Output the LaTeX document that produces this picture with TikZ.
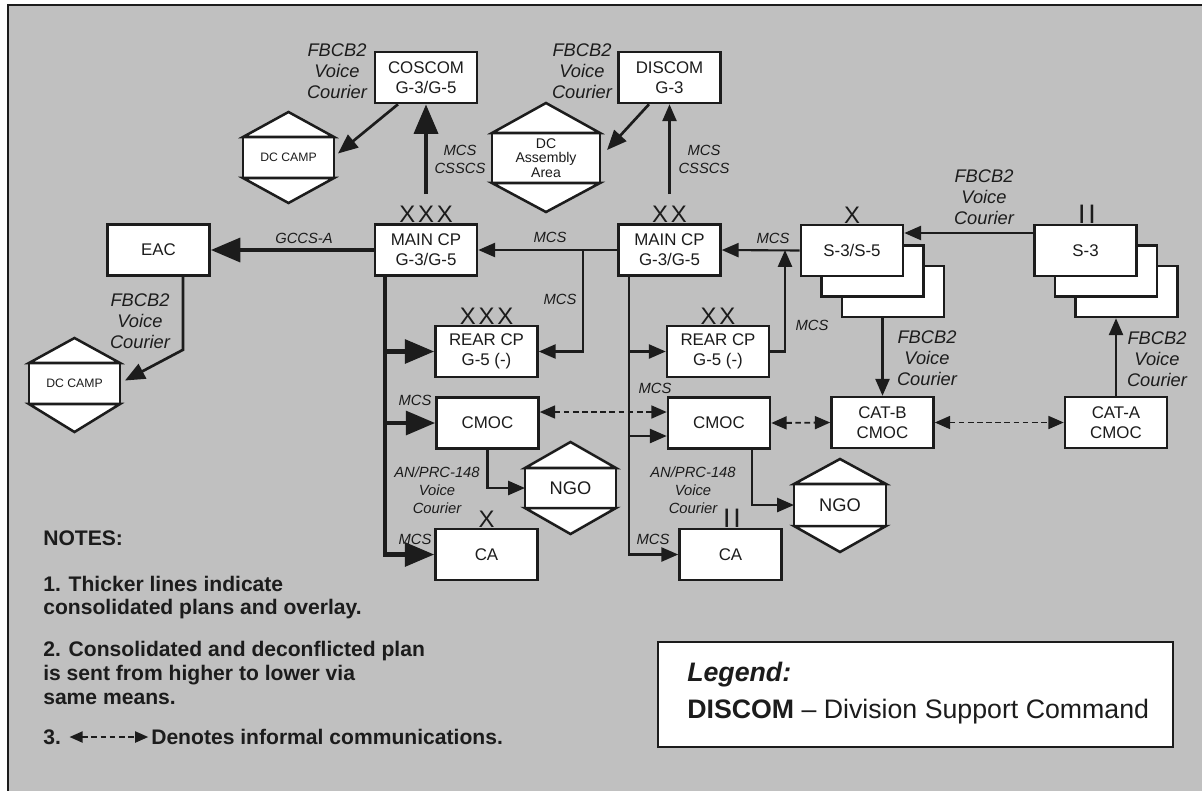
\documentclass[tikz,border=0pt]{standalone}
\usepackage{fontspec}
\setmainfont{Liberation Sans}
\usetikzlibrary{arrows.meta}
\definecolor{bggray}{RGB}{192,192,192}
\definecolor{ink}{RGB}{28,28,28}

\begin{document}
\begin{tikzpicture}[x=0.025cm,y=-0.025cm,
        >={Triangle[length=4pt 5.3,width=4pt 4]},
        box/.style={draw=ink,fill=white,line width=1.8pt,minimum width=2.55cm,minimum height=1.275cm,align=center,text=ink,font=\fontsize{12}{14}\selectfont,inner sep=1pt},
        band/.style={draw=ink,fill=white,line width=1.8pt,align=center,text=ink,inner sep=1pt,outer sep=0pt},
        hexcap/.style={draw=ink,fill=white,line width=1.8pt},
        conn/.style={draw=ink,line width=1.5pt,->},
        thickconn/.style={draw=ink,line width=3.2pt,->},
        informal/.style={draw=ink,line width=1.3pt,<->,dash pattern=on 4pt off 2.5pt},
        lbl/.style={text=ink,font=\fontsize{10.5}{12.8}\selectfont\itshape,align=center,inner sep=0pt},
        vlbl/.style={text=ink,font=\fontsize{13}{15}\selectfont\itshape,align=center,inner sep=0pt},
        ech/.style={text=ink,font=\fontsize{17}{17}\selectfont,inner sep=0pt,anchor=south},
        note/.style={text=ink,font=\fontsize{15}{17}\selectfont\bfseries,align=left,anchor=west,inner sep=0pt}]
    \useasboundingbox (0,0) rectangle (1202,791);
    \fill[bggray] (8,5) rectangle (1202,791);
    \draw[ink,line width=1.6pt] (1202,5) -- (8,5) -- (8,791);

    \node[box] (coscom) at (426,77.5) {COSCOM\\G-3/G-5};
    \node[box] (discom) at (669.5,77.5) {DISCOM\\G-3};
    \node[box] (eac) at (158.5,250) {EAC};
    \node[box] (mainA) at (426,250) {MAIN CP\\G-3/G-5};
    \node[box] (mainB) at (669.5,250) {MAIN CP\\G-3/G-5};
    \node[box] (s35c) at (893,291.5) {};
    \node[box] (s35b) at (872.5,271) {};
    \node[box] (s35) at (852,250.5) {S-3/S-5};
    \node[box] (s3c) at (1126.5,291.5) {};
    \node[box] (s3b) at (1106,271) {};
    \node[box] (s3) at (1085.5,250.5) {S-3};
    \node[box] (rearA) at (486.5,351.5) {REAR CP\\G-5 (-)};
    \node[box] (rearB) at (718,351.5) {REAR CP\\G-5 (-)};
    \node[box] (cmocA) at (487.5,423) {CMOC};
    \node[box] (cmocB) at (719,423) {CMOC};
    \node[box] (catb) at (882.5,422.5) {CAT-B\\CMOC};
    \node[box] (cata) at (1116,422.5) {CAT-A\\CMOC};
    \node[box] (caA) at (486.5,554.5) {CA};
    \node[box] (caB) at (730.5,554.5) {CA};

    \node[band,minimum width=2.275cm,minimum height=1.025cm,font=\fontsize{8.7}{10}\selectfont] (dcA) at (288.5,157.5) {DC CAMP};
    \draw[hexcap] (dcA.north west) -- ++(45.5,-25) -- (dcA.north east) -- cycle;
    \draw[hexcap] (dcA.south west) -- ++(45.5,25) -- (dcA.south east) -- cycle;
    \node[band,minimum width=2.7cm,minimum height=1.25cm,font=\fontsize{10}{10.5}\selectfont] (dcaa) at (546,158) {DC\\Assembly\\Area};
    \draw[hexcap] (dcaa.north west) -- ++(54,-30) -- (dcaa.north east) -- cycle;
    \draw[hexcap] (dcaa.south west) -- ++(54,29) -- (dcaa.south east) -- cycle;
    \node[band,minimum width=2.275cm,minimum height=1.025cm,font=\fontsize{8.7}{10}\selectfont] (dcB) at (74.5,383.5) {DC CAMP};
    \draw[hexcap] (dcB.north west) -- ++(45.5,-25) -- (dcB.north east) -- cycle;
    \draw[hexcap] (dcB.south west) -- ++(45.5,28) -- (dcB.south east) -- cycle;
    \node[band,minimum width=2.275cm,minimum height=1cm,font=\fontsize{13}{15}\selectfont] (ngoA) at (570.5,488) {NGO};
    \draw[hexcap] (ngoA.north west) -- ++(45.5,-26) -- (ngoA.north east) -- cycle;
    \draw[hexcap] (ngoA.south west) -- ++(45.5,26) -- (ngoA.south east) -- cycle;
    \node[band,minimum width=2.3cm,minimum height=1.05cm,font=\fontsize{13}{15}\selectfont] (ngoB) at (840,505) {NGO};
    \draw[hexcap] (ngoB.north west) -- ++(46,-25) -- (ngoB.north east) -- cycle;
    \draw[hexcap] (ngoB.south west) -- ++(46,26) -- (ngoB.south east) -- cycle;

    \node[ech] (echMainA) at (mainA.north) {X\hspace{2pt}X\hspace{2pt}X};
    \node[ech] (echMainB) at (mainB.north) {X\hspace{2pt}X};
    \node[ech] (echS35) at (s35.north) {X};
    \node[ech,font=\fontsize{19}{19}\selectfont] (echS3) at ([shift={(1.5,0)}]s3.north) {I\hspace{2pt}I};
    \node[ech] (echRearA) at (rearA.north) {X\hspace{2pt}X\hspace{2pt}X};
    \node[ech] (echRearB) at (rearB.north) {X\hspace{2pt}X};
    \node[ech] (echCaA) at (caA.north) {X};
    \node[ech,font=\fontsize{19}{19}\selectfont] (echCaB) at ([shift={(1.5,0)}]caB.north) {I\hspace{2pt}I};

    \coordinate (jRear) at (583,250);
    \coordinate (jS35) at (785,250);
    \coordinate (trunkA) at (mainA.south -| 385,0);
    \coordinate (trunkB) at (mainB.south -| 629,0);
    \coordinate (cmocBin) at ([shift={(0,13)}]cmocB.west);
    \coordinate (cmocAx) at ([shift={(0,-11)}]cmocA.east);

    \draw[thickconn] ([shift={(0,-12)}]echMainA.north) -- (coscom.south);
    \draw[conn,line width=1.9pt] ([shift={(-28,0)}]coscom.south) -- ([shift={(4,-4)}]dcA.east);
    \draw[conn] ([shift={(0,-12)}]echMainB.north) -- (discom.south);
    \draw[conn,line width=1.9pt] ([shift={(-20.5,0)}]discom.south) -- ([shift={(7,-8)}]dcaa.east);
    \draw[thickconn] (mainA.west) -- (eac.east);
    \draw[conn,line width=1.9pt] ([shift={(24.5,0)}]eac.south) -- ++(0,73) -- ([shift={(5,-3)}]dcB.east);
    \draw[conn] (mainB.west) -- (mainA.east);
    \draw[conn] (s35.west) -- (mainB.east);
    \draw[conn] (s3.west |- 0,233) -- (s35.east |- 0,233);
    \draw[conn] (jRear) |- (rearA.east);
    \draw[conn] (rearB.east) -| (jS35);
    \draw[conn] (catb.north |- s35c.south) -- (catb.north);
    \draw[conn] (cata.north) -- (cata.north |- s3c.south);

    \draw[thickconn] (trunkA) |- (caA.west);
    \draw[thickconn] (rearA.west -| trunkA) -- (rearA.west);
    \draw[thickconn] (cmocA.west -| trunkA) -- (cmocA.west);
    \draw[conn] (trunkB) |- (caB.west);
    \draw[conn] (rearB.west -| trunkB) -- (rearB.west);
    \draw[conn] (cmocBin -| trunkB) -- (cmocBin);
    \draw[conn] (cmocA.south) |- (ngoA.west);
    \draw[conn] ([shift={(33,0)}]cmocB.south) |- (ngoB.west);

    \draw[informal] (cmocAx) -- (cmocAx -| cmocB.west);
    \draw[informal] (cmocB.east) -- (catb.west);
    \draw[informal] (catb.east) -- (cata.west);

    \node[vlbl] (vcCoscom) at (337,71) {FBCB2\\Voice\\Courier};
    \node[vlbl] (vcDiscom) at (582,71) {FBCB2\\Voice\\Courier};
    \node[lbl] (mcsCoscom) at (460,159) {MCS\\CSSCS};
    \node[lbl] (mcsDiscom) at (704,159) {MCS\\CSSCS};
    \node[lbl] (gccs) at (304,238) {GCCS-A};
    \node[lbl] (mcsMain) at (550,237) {MCS};
    \node[lbl] (mcsS35) at (773,238) {MCS};
    \node[lbl] (mcsRearA) at (560,299) {MCS};
    \node[lbl] (mcsRearB) at (812,325) {MCS};
    \node[vlbl] (vcS3) at (984,197) {FBCB2\\Voice\\Courier};
    \node[vlbl] (vcCatb) at (927,358) {FBCB2\\Voice\\Courier};
    \node[vlbl] (vcCata) at (1157,359) {FBCB2\\Voice\\Courier};
    \node[vlbl] (vcEac) at (140,321) {FBCB2\\Voice\\Courier};
    \node[lbl] (mcsCmocA) at (415,400) {MCS};
    \node[lbl] (mcsCaA) at (415,539) {MCS};
    \node[lbl] (mcsCmocB) at (655,388) {MCS};
    \node[lbl] (mcsCaB) at (653,539) {MCS};
    \node[lbl] (prcA) at (437,490) {AN/PRC-148\\Voice\\Courier};
    \node[lbl] (prcB) at (693,490) {AN/PRC-148\\Voice\\Courier};

    \node[note] (notesHead) at (43,538) {NOTES:};
    \node[note] (note1) at (43,597.5) {1. Thicker lines indicate\\consolidated plans and overlay.};
    \node[note] (note2) at (43,673) {2. Consolidated and deconflicted plan\\is sent from higher to lower via\\same means.};
    \node[note] (note3) at (43,737) {3.};
    \node[note] (note3txt) at (151,737) {Denotes informal communications.};
    \draw[informal,line width=1pt,shorten <=6pt,shorten >=2pt] (note3.east) -- (note3txt.west);

    \node[draw=ink,fill=white,line width=1.8pt,minimum width=12.875cm,minimum height=2.625cm] (legend) at (915.5,694.5) {};
    \node[text=ink,anchor=west,inner sep=0pt,font=\fontsize{19}{22}\selectfont\bfseries\itshape] (legendHead) at (687,675) {Legend:};
    \node[text=ink,anchor=west,inner sep=0pt,font=\fontsize{19}{22}\selectfont] (legendDiscom) at (687,712) {\textbf{DISCOM} \textendash{} Division Support Command};
\end{tikzpicture}
\end{document}
